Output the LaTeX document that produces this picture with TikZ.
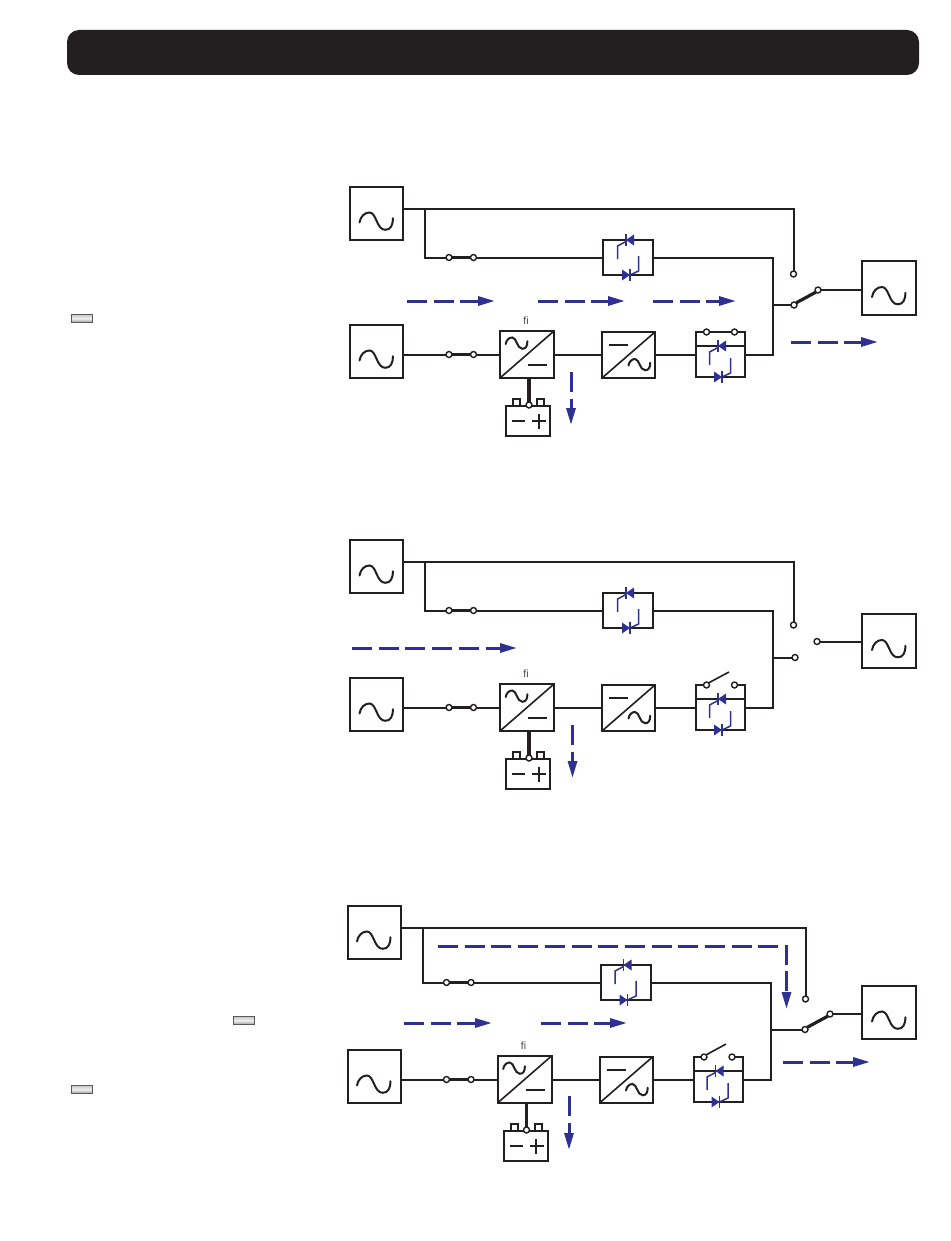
\documentclass[tikz,border=0pt]{standalone}
\usepackage{fontspec}
\setmainfont{Liberation Sans}
\usetikzlibrary{arrows.meta,calc}
\definecolor{ink}{HTML}{231F20}
\definecolor{flowblue}{HTML}{2E3192}
\tikzset{
  x=1pt,y=-1pt,
  wire/.style={draw=ink,line width=2pt,line join=miter},
  thin wire/.style={draw=ink,line width=1.6pt},
  thick wire/.style={draw=ink,line width=3.2pt},
  boxnode/.style={draw=ink,line width=2pt,rectangle,inner sep=0,outer sep=0,minimum width=#1},
  boxnode/.default=53pt,
  ghost/.style={rectangle,inner sep=0,outer sep=0},
  term/.style={circle,draw=ink,fill=white,line width=1.4pt,inner sep=0,outer sep=0,minimum size=6pt},
  flow/.style={draw=flowblue,line width=3pt,dash pattern=on 20pt off 6.7pt,
    -{Triangle[length=17pt,width=9pt,fill=flowblue]}},
  led/.style={rectangle,draw=black!65,line width=1.1pt,top color=black!22,bottom color=black!40,middle color=black!6,
    minimum width=21pt,minimum height=8pt,inner sep=0,outer sep=0},
  sine/.pic={\draw[ink,line width=2pt,line cap=round,scale=#1] (0,0) .. controls (1,-6) and (5,-10) .. (10,-10)
     .. controls (17,-10) and (17,7.3) .. (25.7,7.3) .. controls (31,7.3) and (33.5,3) .. (33.3,-4.3);},
  thyT/.pic={\fill[flowblue] (0,0) -- (8,-5.5) -- (8,5.5) -- cycle;
     \draw[flowblue,line width=1.5pt] (0,-6) -- (0,6);
     \draw[flowblue,line width=1.5pt] (0,1.5) -- (-8.5,6) -- (-8.5,19);},
  thyB/.pic={\fill[flowblue] (0,0) -- (-8,-5.5) -- (-8,5.5) -- cycle;
     \draw[flowblue,line width=1.5pt] (0,-6) -- (0,6);
     \draw[flowblue,line width=1.5pt] (0,0) -- (8.5,-4) -- (8.5,-19);},
}
% #1 prefix, #2 dx, #3 dy, #4 dy of the bypass source
\newcommand{\upsblock}[4]{%
\begin{scope}[shift={(#2,#3)},name prefix=#1-]
  \node[boxnode,minimum height=53pt] (src1) at (376.5,{213.5+#4-#3}) {};
  \pic at (359.5,{222.5+#4-#3}) {sine=1};
  \node[boxnode,minimum height=53pt] (src2) at (376.5,351.5) {};
  \pic at (359.5,360.5) {sine=1};
  \coordinate (branch) at (425,{209+#4-#3});
  \node[term] (bs1) at (449,257.5) {};
  \node[term] (bs2) at (473.5,257.5) {};
  \node[term] (ms1) at (449,354.5) {};
  \node[term] (ms2) at (473.5,354.5) {};
  \node[boxnode=50pt,minimum height=35pt] (byp) at (628,257.5) {};
  \pic at (626,240) {thyT};
  \pic at (630,275) {thyB};
  \node[boxnode=54pt,minimum height=47pt] (rect) at (527,354.5) {};
  \draw[thin wire] (rect.south west) -- (rect.north east);
  \pic at (505.7,344) {sine=.65};
  \draw[wire] (528,365) -- (547,365);
  \node[boxnode=53pt,minimum height=46pt] (inv) at (628.5,355) {};
  \draw[thin wire] (inv.south west) -- (inv.north east);
  \draw[wire] (609,345) -- (628,345);
  \pic at (628.5,365.5) {sine=.65};
  \node[ghost,minimum width=49pt,minimum height=45pt] (stat) at (720.5,354.5) {};
  \node[term] (sw1) at (706.5,332) {};
  \node[term] (sw2) at (734.5,332) {};
  \draw[wire] (sw1.west) -- (stat.north west) -- (stat.south west) -- (stat.south east) -- (stat.north east) -- (sw2.east);
  \coordinate (mid) at (696,346);
  \draw[wire] (mid) -- (mid -| stat.east);
  \pic at (718,346) {thyT};
  \pic at (722,377) {thyB};
  \node[boxnode=44pt,minimum height=30pt] (batt) at (528,421) {};
  \node[boxnode=7pt,minimum height=7pt] (tp1) at (516.5,402.5) {};
  \node[boxnode=7pt,minimum height=7pt] (tp2) at (540.5,402.5) {};
  \draw[wire] (512,421) -- (525,421) (532,421) -- (546,421) (538.5,414) -- (538.5,429);
  \node[term] (bt) at (529,405) {};
  \node[ink!85,font=\fontsize{10.5}{12}\selectfont,inner sep=0] (fi) at (526,320.5) {fi};
  \coordinate (bus top) at (773,258);
  \coordinate (bus low) at (773,355);
  \draw[wire] (branch) -- (branch |- bs1) -- (bs1.west);
  \draw[thick wire] (bs1.east) -- (bs2.west);
  \draw[wire] (bs2.east) -- (bs2.east -| byp.west);
  \draw[wire] (src2.east |- ms1) -- (ms1.west);
  \draw[thick wire] (ms1.east) -- (ms2.west);
  \draw[wire] (ms2.east) -- (ms2.east -| rect.west);
  \draw[wire] (rect.east) -- (rect.east -| inv.west);
  \draw[wire] (inv.east |- rect.east) -- (stat.west);
  \draw[wire] (byp.east |- bus top) -- (bus top) -- (bus low) -- (stat.east |- bus low);
  \draw[thick wire] (bt.north |- rect.south) -- (bt.north);
\end{scope}}
\newcommand{\flowarrow}[3]{\coordinate (#1 a) at (#2); \coordinate (#1 b) at (#3); \draw[flow] (#1 a) -- (#1 b);}
\begin{document}
\begin{tikzpicture}
\useasboundingbox (0,0) rectangle (950,1241);
\node[rectangle,fill=ink,rounded corners=12pt,minimum width=852pt,minimum height=45pt,inner sep=0] (title) at (493,52.5) {};
\node[led] (led1) at (82,318.5) {};
\node[led] (led2) at (244,1020.5) {};
\node[led] (led3) at (82,1089.5) {};

% ---- diagram 1
\upsblock{a}{0}{0}{0}
\node[term] (a-tc) at (793.5,274) {};
\node[term] (a-lc) at (794,305) {};
\node[term] (a-oc) at (818,290) {};
\node[boxnode=54pt,minimum height=54pt] (a-out) at (889,288) {};
\pic at (872,297) {sine=1};
\draw[wire] (a-src1.east |- a-branch) -- (a-tc |- a-branch) -- (a-tc.north);
\draw[wire] (a-lc.west -| a-bus low) -- (a-lc.west);
\draw[thick wire] (a-lc.north east) -- (a-oc.south west);
\draw[wire] (a-oc.east) -- (a-oc.east -| a-out.west);
\draw[thin wire] (a-sw1.east) -- (a-sw2.west);
\flowarrow{a-f1}{407,301}{495,301}
\flowarrow{a-f2}{538,301}{625,301}
\flowarrow{a-f3}{653,301}{736,301}
\flowarrow{a-f4}{791,342}{878,342}
\flowarrow{a-f5}{571,372}{571,425}

% ---- diagram 2
\upsblock{b}{0}{353}{353}
\node[term] (b-tc) at (793.5,625) {};
\node[term] (b-lc) at (795,657.5) {};
\node[term] (b-oc) at (817,641.5) {};
\node[boxnode=54pt,minimum height=54pt] (b-out) at (889,641) {};
\pic at (872,650) {sine=1};
\draw[wire] (b-src1.east |- b-branch) -- (b-tc |- b-branch) -- (b-tc.north);
\draw[wire] (b-lc.west -| b-bus low) -- (b-lc.west);
\draw[wire] (b-oc.east) -- (b-oc.east -| b-out.west);
\coordinate (b-blade) at (729,672);
\draw[thin wire] (b-sw1.north east) -- (b-blade);
\flowarrow{b-f1}{352,648}{517,648}
\flowarrow{b-f5}{572.5,725}{572.5,778}

% ---- diagram 3
\upsblock{c}{-2.5}{725}{719}
\node[term] (c-tc) at (805.5,999) {};
\node[term] (c-lc) at (805,1029.5) {};
\node[term] (c-oc) at (830,1014) {};
\node[boxnode=54pt,minimum height=53pt] (c-out) at (889,1012.5) {};
\pic at (872,1021.5) {sine=1};
\draw[wire] (c-src1.east |- c-branch) -- (c-tc |- c-branch) -- (c-tc.north);
\draw[wire] (c-lc.west -| c-bus low) -- (c-lc.west);
\draw[thick wire] (c-lc.north east) -- (c-oc.south west);
\draw[wire] (c-oc.east) -- (c-oc.east -| c-out.west);
\coordinate (c-blade) at (726,1044);
\draw[thin wire] (c-sw1.north east) -- (c-blade);
\coordinate (c-f0 a) at (438,946);
\coordinate (c-f0 c) at (786.5,946);
\coordinate (c-f0 b) at (786.5,1009);
\draw[flow] (c-f0 a) -- (c-f0 c) -- (c-f0 b);
\flowarrow{c-f1}{404,1023}{492,1023}
\flowarrow{c-f2}{541,1023}{627,1023}
\flowarrow{c-f4}{783,1062}{870,1062}
\flowarrow{c-f5}{569,1096}{569,1150}
\end{tikzpicture}
\end{document}
